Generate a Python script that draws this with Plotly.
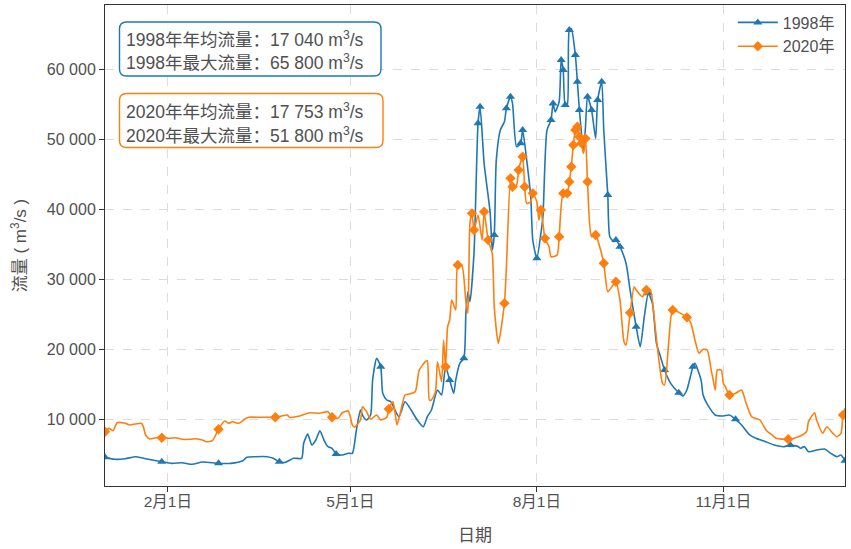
import pandas as pd
import plotly.graph_objects as go

# ---------------- data (day index from 1 Jan, plotted on a common leap-year axis) ----------------
days_1998 = [0,5,10,15,20,28,33,38,43,48,56,62,68,70,74,80,83,86,89,93,97,98,100,102,104,106,108,110,112,114,
             117,120,122,124,126,127,129,131,132,134,136,137,139,141,143,145,148,151,154,157,159,161,164,166,168,
             170,172,173,175,177,178,179,180,182,184,185,187,190,191,192,193,195,197,198,200,201,203,205,206,208,
             210,211,213,215,216,218,220,221,222,224,225,226,227,228,229,230,232,233,234,235,236,237,238,240,242,
             243,245,246,248,249,251,252,254,257,259,262,264,266,268,270,272,274,276,279,283,285,287,290,291,294,
             295,297,301,305,308,311,314,318,321,325,330,335,338,342,343,345,347,351,355,358,361,363,365]
flow_1998 = [4570,4290,4370,4660,4370,3940,3710,3800,3570,3900,3710,3710,4090,4570,4660,4660,4430,3940,3860,4430,
             4430,6570,7900,6330,7040,8370,7040,6090,5860,5040,4900,5140,5140,8470,11330,10610,9900,10610,15610,18710,
             17510,13710,12760,12510,11330,10370,12510,11330,9900,8940,10370,11330,14190,13470,17510,15610,13710,15610,18000,18710,
             25140,28230,26800,33710,52290,54660,46570,39430,34190,36330,47040,51330,52520,54430,56090,55140,48940,49430,51330,47040,
             41800,35610,33000,36570,38940,51330,52760,55140,53940,55370,61330,59900,54900,54900,65620,65800,62040,58230,54190,50860,
             48000,51800,56090,54190,50140,55610,58230,51330,42040,36090,35370,35610,34660,32290,28470,23230,20370,24660,28000,26570,
             20860,18940,17040,15140,13800,13330,14190,17510,18000,15610,13470,12200,10610,10470,10610,10000,9190,7760,7290,6900,
             6330,6090,6330,6090,5860,6090,5370,5610,5760,5140,4660,4900,4090]
marker_days_1998 = [0,28,56,86,114,136,170,177,184,185,192,198,200,205,206,213,220,221,225,226,227,229,232,233,234,
                    238,240,243,245,248,252,254,262,268,276,283,290,311,338,365]

days_2020 = [0,2,4,6,10,12,15,18,19,20,22,25,28,32,35,38,42,45,48,50,53,55,56,59,61,63,66,69,71,76,80,84,87,90,91,96,
             101,106,110,112,115,117,120,122,123,126,127,129,131,134,136,139,140,142,143,144,146,148,150,153,155,158,159,
             160,161,163,164,166,167,168,169,170,171,173,174,176,178,179,180,181,182,184,186,187,189,191,192,194,197,198,
             200,201,203,204,206,207,208,210,211,213,214,215,216,217,219,220,223,224,226,228,229,230,231,232,233,234,235,
             236,237,238,240,242,244,246,248,250,252,254,256,257,259,261,262,265,267,269,271,273,275,276,278,280,284,287,
             289,291,293,295,297,299,300,301,302,304,305,306,308,311,314,316,319,323,326,329,331,337,342,346,347,350,351,
             354,356,359,361,363,364,365]
flow_2020 = [8230,8710,8370,9510,9430,9190,9330,9430,8860,7760,7190,7370,7370,7290,7370,7140,7140,7230,7040,6800,6940,
             8000,8570,9760,9430,9660,9430,10040,10290,10290,10290,10290,10470,10610,10290,10470,
             10940,10860,11090,10290,10140,10940,11190,9190,8860,9900,11800,11090,10000,10610,9900,10290,11470,12510,11090,
             9190,11330,13470,13610,13940,17040,18230,18370,
             12760,12760,13940,18230,15370,21330,17510,23230,24190,27040,25610,32040,32040,26800,25140,38000,39430,37040,
             39190,35610,39660,35610,33710,26090,20860,26570,31800,
             44430,43230,43470,45610,47510,43230,40860,41090,42290,41090,38470,39900,38000,35860,34660,33230,33470,36090,
             42290,42290,43940,46090,49190,51330,51800,50370,49430,
             48000,50140,43940,36090,36330,34660,32290,28230,28940,29660,27040,21090,20610,25230,28940,28470,27510,28470,
             28470,24190,18940,15140,14900,20860,25610,25140,24570,
             23710,21330,19430,20000,19900,17040,15610,14190,17040,17040,15140,14660,13470,13710,14190,12510,10370,9900,
             8470,7760,7290,7140,7510,8230,9660,10940,9900,
             8000,8940,8000,7510,8000,10610,11570]
marker_days_2020 = [0,28,56,84,112,140,168,174,181,182,187,189,197,200,201,204,206,207,211,215,217,224,226,228,229,
                    230,231,232,233,234,235,237,238,242,246,252,259,267,280,287,308,337,364]

series_names = ["1998年", "2020年"]
mean_flow_labels = ["17 040", "17 753"]
max_flow_labels = ["65 800", "51 800"]

x_tick_dates = ["2020-02-01", "2020-05-01", "2020-08-01", "2020-11-01"]
x_tick_labels = ["2月1日", "5月1日", "8月1日", "11月1日"]
y_tick_vals = [10000, 20000, 30000, 40000, 50000, 60000]
y_tick_labels = ["10 000", "20 000", "30 000", "40 000", "50 000", "60 000"]

# ---------------- figure ----------------
BASE = pd.Timestamp("2020-01-01")


def to_dates(days):
    return [BASE + pd.Timedelta(days=int(d)) for d in days]


colors = ["#1f77b4", "#ff7f0e"]
symbols = ["triangle-up", "diamond"]
FONT = "Liberation Sans, Arial, Noto Sans CJK SC, sans-serif"
TXT = "#505050"

fig = go.Figure()
all_days = [days_1998, days_2020]
all_flow = [flow_1998, flow_2020]
all_marks = [marker_days_1998, marker_days_2020]

for i in range(2):
    xs = to_dates(all_days[i])
    fig.add_trace(go.Scatter(x=xs, y=all_flow[i], mode="lines",
                             line=dict(color=colors[i], width=1.6, shape="spline", smoothing=0.6),
                             showlegend=False, hoverinfo="skip"))
    mk = set(all_marks[i])
    mx = [x for x, d in zip(xs, all_days[i]) if d in mk]
    my = [y for y, d in zip(all_flow[i], all_days[i]) if d in mk]
    fig.add_trace(go.Scatter(x=mx, y=my, mode="markers",
                             marker=dict(color=colors[i], symbol=symbols[i], size=8, line=dict(width=0)),
                             showlegend=False, hoverinfo="skip"))
    fig.add_trace(go.Scatter(x=[None], y=[None], mode="lines+markers", name=series_names[i],
                             line=dict(color=colors[i], width=1.6),
                             marker=dict(color=colors[i], symbol=symbols[i], size=8)))

# ---------------- layout geometry (pixels) ----------------
W, H = 851, 549
L, R, T, B = 105, 6, 5, 63
PW, PH = W - L - R, H - T - B


def px2paper(px, py):
    return (px - L) / PW, (H - B - py) / PH


def rounded_rect(x0, y0, x1, y1, r):
    ax0, ay0 = px2paper(x0, y0)
    ax1, ay1 = px2paper(x1, y1)
    rx, ry = r / PW, r / PH
    top, bot = ay0, ay1
    return (f"M {ax0+rx},{top} L {ax1-rx},{top} Q {ax1},{top} {ax1},{top-ry} "
            f"L {ax1},{bot+ry} Q {ax1},{bot} {ax1-rx},{bot} "
            f"L {ax0+rx},{bot} Q {ax0},{bot} {ax0},{bot+ry} "
            f"L {ax0},{top-ry} Q {ax0},{top} {ax0+rx},{top} Z")


boxes = [(119.5, 22, 381, 76), (119.5, 93.5, 383, 147.5)]
line_y = [(38.5, 62), (111.5, 135)]
shapes = []
annotations = []
for i in range(2):
    x0, y0, x1, y1 = boxes[i]
    shapes.append(dict(type="path", xref="paper", yref="paper", path=rounded_rect(x0, y0, x1, y1, 7),
                       line=dict(color=colors[i], width=1.4), fillcolor="rgba(255,255,255,0.85)", layer="above"))
    yr = series_names[i].replace("年", "")
    texts = [f"{yr}年年均流量：{mean_flow_labels[i]} m<sup>3</sup>/s",
             f"{yr}年最大流量：{max_flow_labels[i]} m<sup>3</sup>/s"]
    for t, ly in zip(texts, line_y[i]):
        ax, ay = px2paper(124, ly)
        annotations.append(dict(x=ax, y=ay, xref="paper", yref="paper", text=t, showarrow=False,
                                xanchor="left", yanchor="middle",
                                font=dict(family=FONT, size=17.5, color=TXT)))

fig.update_layout(
    width=W, height=H,
    margin=dict(l=L, r=R, t=T, b=B, autoexpand=False),
    paper_bgcolor="white", plot_bgcolor="white",
    font=dict(family=FONT, size=16, color=TXT),
    shapes=shapes, annotations=annotations,
    legend=dict(x=0.993, y=0.999, xanchor="right", yanchor="top", bgcolor="rgba(255,255,255,0)",
                font=dict(family=FONT, size=16, color=TXT), tracegroupgap=0, itemwidth=40),
)
fig.update_xaxes(
    type="date", range=["2020-01-01", "2020-12-31"],
    tickvals=x_tick_dates, ticktext=x_tick_labels,
    ticks="outside", ticklen=5, tickcolor="#333",
    showline=True, linecolor="#333", linewidth=1, mirror=True,
    showgrid=True, gridcolor="#dcdcdc", griddash="dash", gridwidth=1,
    zeroline=False, ticklabelstandoff=-4,
    title=dict(text="日期", font=dict(family=FONT, size=17, color=TXT), standoff=20),
    tickfont=dict(family=FONT, size=15.5, color=TXT),
)
fig.update_yaxes(
    range=[470, 69200],
    tickvals=y_tick_vals, ticktext=y_tick_labels,
    ticks="outside", ticklen=5, tickcolor="#333",
    showline=True, linecolor="#333", linewidth=1, mirror=True,
    showgrid=True, gridcolor="#dcdcdc", griddash="dash", gridwidth=1,
    zeroline=False,
    title=dict(text="流量 ( m<sup>3</sup>/s )", font=dict(family=FONT, size=17, color=TXT), standoff=15),
    tickfont=dict(family=FONT, size=16, color=TXT),
)

fig.write_html("out.html", config={"displayModeBar": False},
               post_script="document.body.style.margin='0';document.body.style.overflow='hidden';")
